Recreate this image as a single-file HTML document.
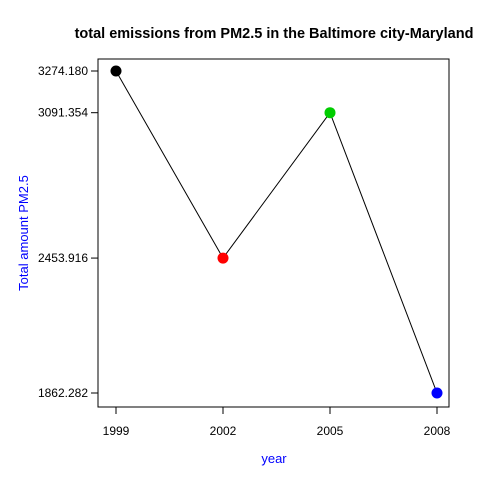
<!DOCTYPE html>
<html><head><meta charset="utf-8"><style>
html,body{margin:0;padding:0;background:#fff;}
svg{display:block;font-family:"Liberation Sans",Arial,sans-serif;}
</style></head><body>
<svg id="chart" width="480" height="480">
<rect x="0" y="0" width="480" height="480" fill="#fff"/>
<text x="274" y="38" text-anchor="middle" font-weight="bold" font-size="14.5">total emissions from PM2.5 in the Baltimore city-Maryland</text>
<rect x="98" y="59" width="351" height="348" fill="none" stroke="#000" stroke-width="1"/>
<text x="274" y="463" text-anchor="middle" font-size="13" fill="#0000ff">year</text>
<text transform="translate(28,233) rotate(-90)" text-anchor="middle" font-size="13" fill="#0000ff">Total amount PM2.5</text>
<g id="axes"></g>
<g id="marks"></g>
</svg>
<script>
const years = [1999, 2002, 2005, 2008];
const emissions = [3274.180, 2453.916, 3091.354, 1862.282];
const colors = ["#000000", "#ff0000", "#00cd00", "#0000ff"];
const yTicks = [3274.180, 3091.354, 2453.916, 1862.282];
const yTickLabels = ["3274.180", "3091.354", "2453.916", "1862.282"];
const xTicks = [1999, 2002, 2005, 2008];

const NS = "http://www.w3.org/2000/svg";
const xS = v => 116 + (v - 1999) * (437 - 116) / 9;
const yS = v => 393 - (v - 1862.282) * (393 - 71) / (3274.180 - 1862.282);
const axes = document.getElementById('axes');
const marks = document.getElementById('marks');
function mk(tag, attrs, parent) {
  const e = document.createElementNS(NS, tag);
  for (const k in attrs) e.setAttribute(k, attrs[k]);
  parent.appendChild(e);
  return e;
}
xTicks.forEach(t => {
  const l = mk('line', {x1: xS(t), x2: xS(t), y1: 407, y2: 414, stroke: '#000'}, axes);
  
  
  const tx = mk('text', {x: xS(t), y: 435, 'text-anchor': 'middle', 'font-size': 12}, axes);
  tx.textContent = t;
  
  
});
yTicks.forEach((t, i) => {
  const l = mk('line', {x1: 91, x2: 98, y1: yS(t), y2: yS(t), stroke: '#000'}, axes);
  
  
  const tx = mk('text', {x: 88, y: yS(t) + 4, 'text-anchor': 'end', 'font-size': 12}, axes);
  tx.textContent = yTickLabels[i];
  
  
});
const pts = years.map((y, i) => xS(y) + ',' + yS(emissions[i])).join(' ');
const line = mk('polyline', {points: pts, fill: 'none', stroke: '#000', 'stroke-width': 1}, marks);


years.forEach((y, i) => {
  const c = mk('circle', {cx: xS(y), cy: yS(emissions[i]), r: 5.5, fill: colors[i]}, marks);
  
  
});
</script>
</body></html>
